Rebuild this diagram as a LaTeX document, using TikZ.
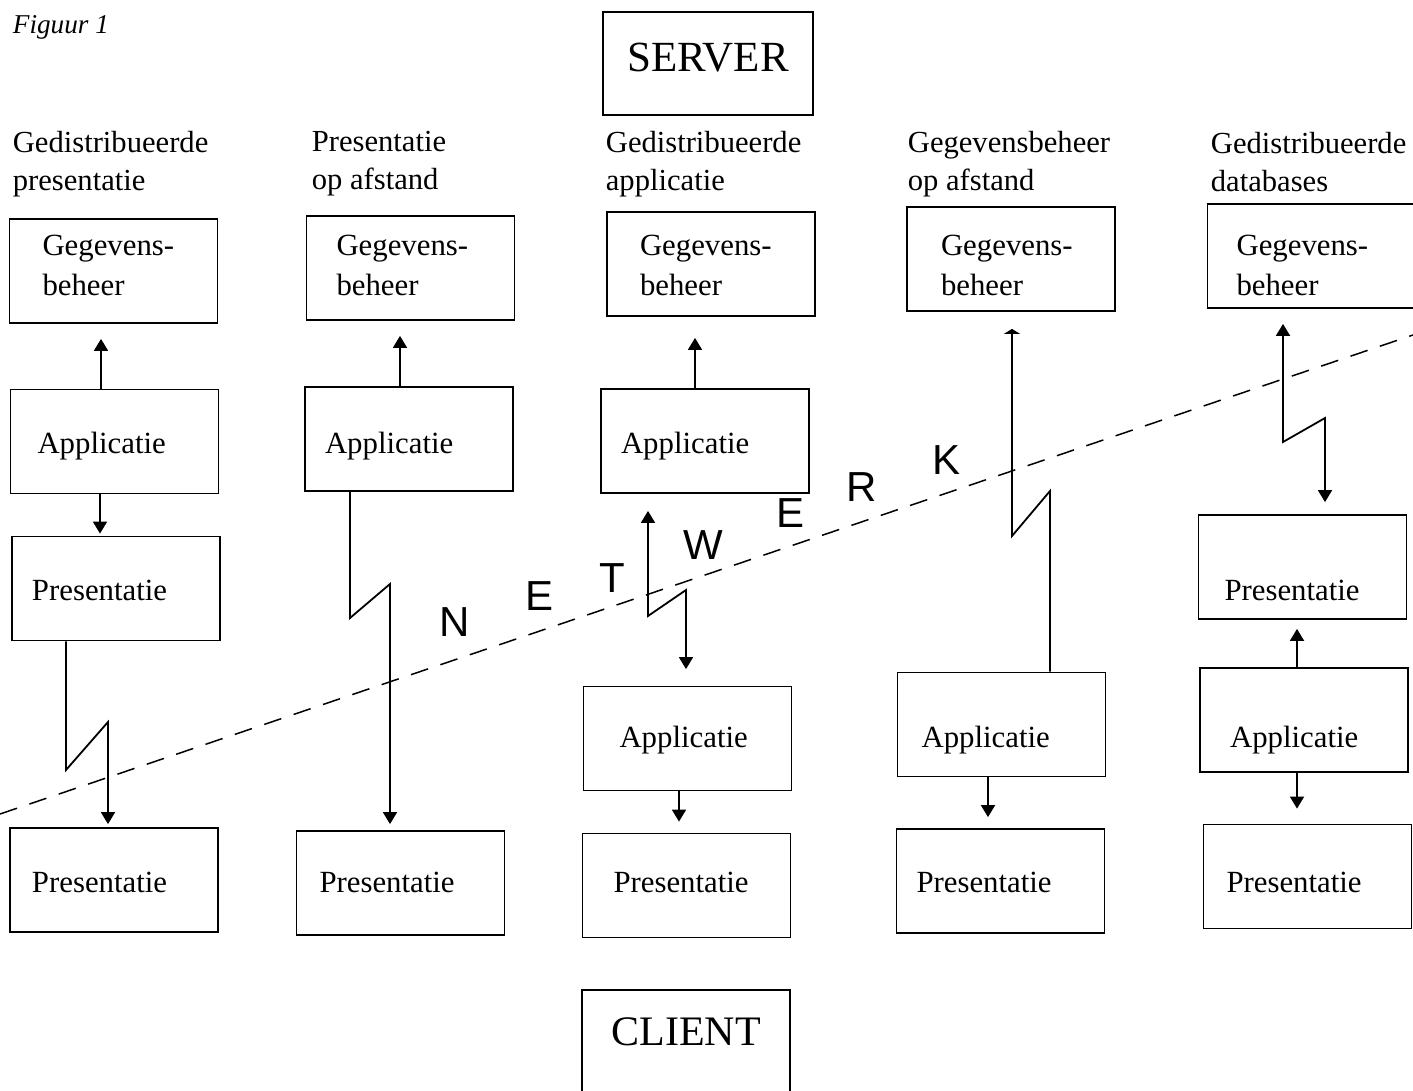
\documentclass[tikz,border=0pt]{standalone}
\usepackage{fontspec}
\setmainfont{Liberation Serif}
\newfontfamily\letterfont{Liberation Sans}
\usetikzlibrary{arrows.meta}

% text sizes
\newcommand\bxfont{\fontsize{15.4}{20}\selectfont}
\newcommand\hdfont{\fontsize{15.3}{19}\selectfont}

\begin{document}
\begin{tikzpicture}[
  x=0.5pt, y=-0.5pt,
  line width=0.9pt,
  every node/.style={inner sep=0pt},
  % layer box: #1 = left padding of the text, #2 = drop of the first
  % baseline below the box centre
  box/.style 2 args={draw, minimum height=52pt, align=left, inner xsep=#1,
    /utils/exec={\pgfmathsetlengthmacro\bxtw{104pt-2*(#1)}%
                 \pgfmathsetlengthmacro\bxth{20pt+(#2)}%
                 \pgfmathsetlengthmacro\bxtd{20pt-(#2)}},
    text width=\bxtw, text height=\bxth, text depth=\bxtd, font=\bxfont},
  head/.style={anchor=north west, align=left, font=\hdfont},
  netletter/.style={font=\letterfont\fontsize{21}{25}\selectfont},
  netline/.style={line width=0.75pt, dash pattern=on 9pt off 6.5pt},
  arr/.style={-{Triangle[width=7pt,length=6pt]}},
  arrs/.style={{Triangle[width=7pt,length=6pt]}-{Triangle[width=7pt,length=6pt]}},
]
\path[use as bounding box, fill=white] (0,0) rectangle (1413,1091);
\clip (0,0) rectangle (1413,1091);

\node[anchor=north west, font=\itshape\fontsize{13.6}{16}\selectfont] (fig) at (12,15) {Figuur 1};

% network boundary
\coordinate (netL) at (0,814);
\coordinate (netR) at (1413,335);
\draw[netline] (netL) -- (netR);
\node[netletter] (n1) at (455,622) {N};
\node[netletter] (n2) at (540,596) {E};
\node[netletter] (n3) at (612,578) {T};
\node[netletter] (n4) at (703,545) {W};
\node[netletter] (n5) at (790,513) {E};
\node[netletter] (n6) at (862,487) {R};
\node[netletter] (n7) at (946,460) {K};

% server and client
\node[draw, minimum width=105pt, minimum height=51.5pt, text depth=6pt,
      font=\fontsize{21.5}{26}\selectfont] (server) at (708,63.5) {SERVER};
\node[draw, minimum width=104pt, minimum height=55pt, text depth=13pt,
      font=\fontsize{21}{26}\selectfont] (client) at (686,1045) {CLIENT};

% column 1: gedistribueerde presentatie
\node[head] (h1) at (12,130) {Gedistribueerde\\presentatie};
\node[box={16.5pt}{-7.5pt}] (g1) at (113.5,271) {Gegevens-\\beheer};
\node[box={13.5pt}{5.75pt}] (a1) at (114.5,441.5) {Applicatie};
\node[box={10pt}{5.75pt}] (p1) at (116,588.5) {Presentatie};
\node[box={11pt}{6pt}] (q1) at (114,880) {Presentatie};
\draw[arr, shorten >=7.5pt] ([xshift=-6.75pt]a1.north) -- ([xshift=-6.75pt]a1.north |- g1.south);
\draw[arr, shorten >=1pt] ([xshift=-7.25pt]a1.south) -- ([xshift=-7.25pt]a1.south |- p1.north);
\coordinate (z1a) at (66,770);
\coordinate (z1b) at (108,722);
\draw[arr, shorten >=1.5pt] (p1.south -| z1a) -- (z1a) -- (z1b) -- (z1b |- q1.north);

% column 2: presentatie op afstand
\node[head] (h2) at (311,130) {Presentatie\\op afstand};
\node[box={15pt}{-6pt}] (g2) at (410.5,268) {Gegevens-\\beheer};
\node[box={10pt}{7pt}] (a2) at (409,439) {Applicatie};
\node[box={11.5pt}{4.5pt}] (q2) at (400.5,883) {Presentatie};
\draw[arr, shorten >=7.5pt] ([xshift=-4.5pt]a2.north) -- ([xshift=-4.5pt]a2.north |- g2.south);
\coordinate (z2a) at (350,618);
\coordinate (z2b) at (390,584);
\draw[arr, shorten >=3pt] (a2.south -| z2a) -- (z2a) -- (z2b) -- (z2b |- q2.north);

% column 3: gedistribueerde applicatie
\node[head] (h3) at (605,130) {Gedistribueerde\\applicatie};
\node[box={16.5pt}{-4pt}] (g3) at (711,264) {Gegevens-\\beheer};
\node[box={10pt}{6pt}] (a3) at (705,441) {Applicatie};
\node[box={18pt}{4.25pt}] (b3) at (687.5,738.5) {Applicatie};
\node[box={15.5pt}{3.25pt}] (q3) at (686.5,885.5) {Presentatie};
\draw[arr, shorten >=10.5pt] ([xshift=-5pt]a3.north) -- ([xshift=-5pt]a3.north |- g3.south);
\coordinate (z3a) at (648,616);
\coordinate (z3b) at (686,590);
\draw[arrs, shorten <=8.5pt, shorten >=8.25pt] (a3.south -| z3a) -- (z3a) -- (z3b) -- (z3b |- b3.north);
\draw[arr, shorten >=5.5pt] ([xshift=-4.25pt]b3.south) -- ([xshift=-4.25pt]b3.south |- q3.north);

% column 4: gegevensbeheer op afstand
\node[head] (h4) at (907,130) {Gegevensbeheer\\op afstand};
\node[box={17pt}{-1.5pt}] (g4) at (1011,259) {Gegevens-\\beheer};
\node[box={12pt}{11.25pt}] (b4) at (1001.5,724.5) {Applicatie};
\node[box={10pt}{5.5pt}] (q4) at (1000.5,881) {Presentatie};
\coordinate (z4a) at (1050,491);
\coordinate (z4b) at (1012,536);
\draw[-{Triangle[width=8pt,length=2.5pt]}, shorten >=8.5pt] (b4.north -| z4a) -- (z4a) -- (z4b) -- (z4b |- g4.south);
\draw[arr, shorten >=5.5pt] ([xshift=-6.75pt]b4.south) -- ([xshift=-6.75pt]b4.south |- q4.north);

% column 5: gedistribueerde databases
\node[head] (h5) at (1210,131) {Gedistribueerde\\databases};
\node[box={14.5pt}{0pt}] (g5) at (1311.5,256) {Gegevens-\\beheer};
\node[box={13pt}{16.5pt}] (p5) at (1302.5,567) {Presentatie};
\node[box={15pt}{13.5pt}] (a5) at (1304,720) {Applicatie};
\node[box={11.5pt}{7.75pt}] (q5) at (1307.5,876.5) {Presentatie};
\coordinate (z5a) at (1283,442);
\coordinate (z5b) at (1325,418);
\draw[arrs, shorten <=7.5pt, shorten >=6pt] (g5.south -| z5a) -- (z5a) -- (z5b) -- (z5b |- p5.north);
\draw[arr, shorten >=4.5pt] ([xshift=-3.5pt]a5.north) -- ([xshift=-3.5pt]a5.north |- p5.south);
\draw[arr, shorten >=7.5pt] ([xshift=-3.5pt]a5.south) -- ([xshift=-3.5pt]a5.south |- q5.north);
\end{tikzpicture}
\end{document}
